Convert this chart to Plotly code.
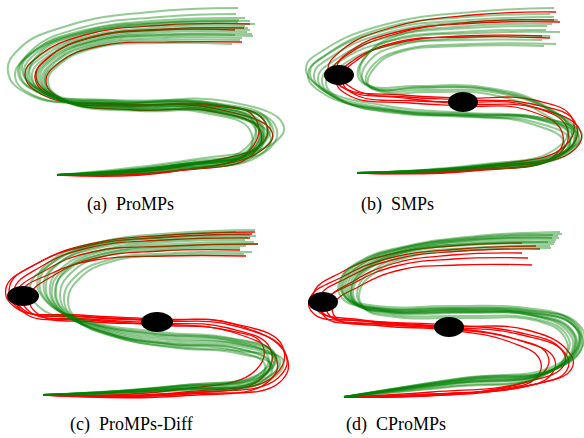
import plotly.graph_objects as go

# ---------------- data (panel-local pixel coordinates, y downward) ----------------
A_GREEN = [
    [(238,22),(160,23),(85,32),(35,50),(18,72),(40,93),(115,100),(215,103),(268,120),(262,145),(180,163),(57,175)],
    [(245,26),(165,27),(90,36),(42,54),(26,74),(48,95),(120,104),(210,107),(262,124),(255,150),(175,166),(57,175)],
    [(250,30),(170,30),(95,38),(48,56),(32,76),(52,97),(125,106),(205,109),(258,128),(250,152),(170,168),(57,175)],
    [(235,35),(160,35),(90,42),(50,60),(38,78),(58,98),(130,108),(200,112),(250,130),(245,155),(165,169),(57,175)],
    [(255,24),(170,25),(80,34),(30,55),(15,76),(35,96),(110,103),(220,105),(275,125),(270,148),(185,164),(57,175)],
    [(240,40),(165,40),(100,45),(60,62),(45,80),(65,100),(135,110),(210,110),(255,128),(248,150),(172,167),(57,175)],
    [(238,8),(150,12),(70,25),(20,48),(8,72),(30,95),(110,103),(225,101),(283,124),(275,142),(190,160),(57,175)],
    [(245,18),(165,20),(85,30),(38,48),(22,70),(45,92),(118,101),(212,104),(265,122),(258,147),(178,165),(57,175)],
    [(252,34),(175,34),(100,40),(55,58),(40,78),(60,99),(128,107),(205,108),(258,126),(252,150),(172,167),(57,175)],
    [(232,44),(160,43),(95,48),(60,64),(48,82),(68,102),(140,111),(215,112),(262,132),(255,155),(170,170),(57,175)],
    [(248,28),(168,29),(92,37),(45,55),(28,75),(50,96),(122,105),(208,106),(260,125),(252,151),(174,166),(57,175)],
    [(242,38),(165,38),(98,44),(58,60),(44,80),(62,100),(132,109),(210,112),(270,135),(260,155),(175,170),(57,175)],
    [(236,14),(160,17),(80,28),(32,50),(20,74),(42,94),(112,102),(218,104),(272,126),(264,148),(182,164),(57,175)],
    [(250,21),(168,23),(88,33),(40,53),(30,76),(54,97),(126,104),(206,106),(254,122),(246,148),(168,166),(57,175)],
    [(247,32),(168,32),(94,40),(50,58),(36,78),(56,98),(126,106),(206,108),(262,127),(254,151),(172,167),(57,175)],
    [(239,20),(163,22),(86,31),(39,51),(24,73),(46,94),(117,102),(214,105),(266,123),(259,148),(179,165),(57,175)],
    [(253,36),(172,36),(99,42),(56,60),(42,80),(62,100),(130,108),(207,110),(260,131),(252,154),(171,169),(57,175)],
]
A_RED = [
    [(242,42),(170,42),(100,46),(60,62),(46,82),(66,101),(135,110),(210,111),(260,130),(252,155),(175,171),(57,175)],
    [(250,24),(165,25),(85,35),(40,55),(25,75),(45,96),(120,104),(215,106),(262,118),(265,140),(190,165),(57,175)],
    [(235,30),(160,30),(90,38),(48,58),(35,78),(55,98),(128,106),(205,104),(255,118),(250,150),(170,172),(57,175)],
    [(244,28),(166,29),(92,37),(50,56),(36,76),(56,97),(124,105),(212,108),(272,132),(262,150),(180,170),(57,175)],
]
A_OBST = []

B_GREEN = [
    [(262,8),(180,12),(95,24),(35,48),(14,68),(30,88),(95,106),(175,113),(245,117),(284,132),(272,152),(190,166),(65,173)],
    [(258,14),(175,17),(92,28),(38,52),(18,72),(34,92),(100,109),(178,115),(248,119),(287,136),(274,155),(186,167),(65,173)],
    [(266,20),(182,22),(98,32),(42,55),(22,75),(38,95),(105,111),(180,116),(252,121),(282,138),(268,156),(182,168),(65,173)],
    [(255,26),(175,28),(96,37),(46,58),(26,78),(42,97),(108,112),(176,117),(242,122),(278,140),(264,158),(178,169),(65,173)],
    [(268,32),(185,33),(102,40),(50,60),(30,80),(46,99),(110,113),(182,115),(250,118),(290,134),(276,150),(192,165),(65,173)],
    [(250,40),(170,40),(100,45),(55,62),(34,82),(50,100),(112,114),(172,116),(240,124),(272,142),(260,159),(175,170),(65,173)],
    [(262,17),(178,20),(94,30),(36,54),(16,74),(32,94),(98,110),(176,114),(246,119),(283,135),(270,153),(188,166),(65,173)],
    [(258,36),(172,38),(105,46),(78,60),(70,78),(80,88),(130,88),(195,89),(255,108),(280,132),(266,152),(185,166),(65,173)],
    [(264,44),(178,44),(110,50),(82,64),(74,82),(86,90),(135,90),(200,92),(260,112),(284,136),(270,155),(188,167),(65,173)],
    [(254,30),(170,32),(100,40),(74,56),(66,76),(78,86),(125,86),(190,87),(250,104),(276,128),(262,150),(182,165),(65,173)],
    [(260,24),(176,26),(104,36),(76,54),(68,74),(82,88),(132,87),(198,90),(258,110),(286,134),(272,154),(190,166),(65,173)],
    [(252,46),(168,46),(108,52),(84,66),(76,84),(90,92),(138,92),(196,94),(252,114),(278,138),(264,157),(180,168),(65,173)],
]
B_RED = [
    [(262,20),(180,22),(100,35),(55,55),(40,72),(55,90),(115,97),(171,100),(240,104),(283,122),(278,148),(195,167),(65,173)],
    [(268,22),(185,23),(105,32),(60,50),(45,68),(60,88),(120,99),(171,104),(245,108),(288,130),(282,150),(198,168),(65,173)],
    [(258,38),(175,37),(105,42),(68,58),(50,78),(62,94),(125,101),(171,102),(238,106),(275,128),(266,155),(185,170),(65,173)],
    [(250,36),(170,36),(102,44),(62,60),(44,80),(58,96),(118,103),(171,106),(235,110),(270,132),(262,156),(180,171),(65,173)],
    [(264,12),(180,15),(98,28),(50,50),(36,70),(52,88),(110,95),(171,98),(242,100),(280,118),(274,145),(192,166),(65,173)],
]
B_OBST = [(47, 75, 15, 10), (171, 102, 15, 10)]

C_GREEN = [
    [(255,10),(175,13),(100,22),(55,38),(38,58),(45,80),(85,100),(160,112),(230,118),(272,132),(262,152),(175,166),(43,175)],
    [(250,15),(170,17),(100,26),(60,42),(44,62),(52,84),(92,104),(165,116),(235,121),(276,136),(264,155),(172,167),(43,175)],
    [(245,20),(168,22),(102,30),(64,46),(50,66),(58,88),(98,108),(168,120),(238,124),(280,140),(268,157),(178,168),(43,175)],
    [(258,24),(178,26),(106,33),(68,50),(55,70),(64,92),(104,112),(170,124),(235,128),(270,142),(258,160),(170,169),(43,175)],
    [(240,28),(165,30),(104,36),(72,52),(60,74),(70,95),(110,114),(172,125),(232,130),(265,145),(254,162),(168,170),(43,175)],
    [(252,32),(175,33),(108,40),(76,56),(64,78),(74,98),(115,117),(175,127),(240,131),(283,140),(270,160),(180,169),(43,175)],
    [(236,12),(160,16),(90,26),(48,46),(30,66),(38,86),(82,102),(155,114),(228,120),(268,136),(258,155),(170,167),(43,175)],
    [(248,18),(172,20),(98,28),(58,44),(46,64),(54,86),(95,106),(166,118),(234,123),(274,138),(262,156),(176,167),(43,175)],
    [(254,22),(176,24),(104,31),(66,48),(52,68),(60,90),(100,110),(168,122),(238,126),(278,141),(266,159),(174,169),(43,175)],
    [(244,34),(170,35),(110,42),(80,58),(68,80),(78,100),(120,118),(178,128),(236,133),(272,146),(260,163),(172,171),(43,175)],
    [(256,16),(178,18),(100,24),(56,40),(40,60),(48,82),(88,102),(162,114),(232,119),(275,134),(264,153),(174,166),(43,175)],
    [(246,26),(170,28),(103,34),(66,50),(56,72),(66,93),(106,113),(171,124),(236,128),(270,144),(258,161),(170,170),(43,175)],
]
C_RED = [
    [(255,12),(170,15),(90,24),(40,42),(10,65),(18,88),(80,95),(157,99),(230,103),(282,125),(275,155),(185,172),(43,175)],
    [(250,18),(165,20),(88,28),(42,46),(14,70),(24,90),(85,97),(157,101),(235,106),(285,132),(278,158),(182,173),(43,175)],
    [(246,36),(165,36),(95,40),(50,54),(22,72),(30,92),(90,99),(157,103),(228,108),(270,128),(262,158),(178,174),(43,175)],
    [(258,24),(172,26),(92,32),(46,50),(16,74),(26,94),(88,100),(157,105),(232,112),(276,138),(268,162),(180,176),(43,175)],
    [(240,30),(160,31),(96,38),(56,54),(30,76),(38,94),(95,102),(157,104),(226,110),(262,124),(256,150),(175,170),(43,175)],
    [(252,14),(168,17),(86,26),(36,44),(6,68),(16,88),(76,96),(157,100),(234,104),(286,135),(280,162),(190,174),(43,175)],
]
C_OBST = [(23, 76, 16, 10), (157, 102, 16, 10)]

D_GREEN = [
    [(268,12),(185,16),(115,26),(70,40),(50,58),(52,76),(85,86),(160,86),(235,88),(278,100),(288,120),(262,146),(170,158),(52,177)],
    [(266,16),(182,19),(112,28),(72,43),(54,62),(58,80),(90,89),(165,89),(238,92),(280,104),(286,125),(258,150),(168,160),(52,177)],
    [(264,20),(180,22),(112,31),(75,46),(58,64),(62,82),(95,91),(168,91),(240,94),(278,108),(284,128),(256,152),(165,162),(52,177)],
    [(262,24),(178,25),(114,33),(78,48),(62,66),(66,84),(98,93),(170,93),(242,96),(276,112),(280,130),(252,154),(162,164),(52,177)],
    [(260,18),(180,20),(110,30),(70,44),(52,62),(56,80),(88,90),(162,90),(236,92),(282,106),(290,126),(262,150),(172,160),(52,177)],
    [(258,26),(176,28),(116,35),(82,50),(66,68),(70,86),(102,95),(172,96),(244,99),(274,114),(276,132),(250,156),(160,166),(52,177)],
    [(270,14),(186,17),(114,27),(68,42),(48,60),(50,78),(84,88),(158,88),(234,90),(284,102),(292,122),(266,148),(174,158),(52,177)],
    [(256,22),(176,24),(112,32),(76,47),(60,65),(64,83),(96,92),(166,92),(238,95),(279,110),(282,130),(254,153),(164,163),(52,177)],
    [(267,18),(184,20),(113,30),(73,45),(56,63),(60,81),(92,90),(164,90),(237,93),(281,105),(287,126),(259,151),(167,161),(52,177)],
    [(263,22),(179,24),(113,32),(77,47),(60,66),(64,84),(97,92),(168,92),(241,95),(277,110),(282,129),(254,153),(163,163),(52,177)],
    [(261,15),(182,18),(111,28),(70,42),(51,60),(54,78),(87,88),(161,88),(236,90),(283,103),(289,123),(264,148),(171,159),(52,177)],
    [(259,28),(177,30),(117,37),(84,52),(68,70),(72,88),(104,97),(174,98),(246,101),(272,116),(274,134),(248,157),(158,167),(52,177)],
]
D_RED = [
    [(230,23),(160,26),(95,35),(50,52),(22,72),(25,90),(70,100),(157,105),(225,112),(268,128),(272,145),(230,163),(140,172),(52,177)],
    [(248,29),(170,31),(100,40),(55,58),(28,76),(30,92),(80,102),(157,107),(230,115),(272,132),(275,150),(235,166),(140,174),(52,177)],
    [(230,33),(160,35),(100,44),(60,62),(36,80),(38,96),(88,104),(157,108),(220,118),(255,134),(252,152),(210,168),(130,175),(52,177)],
    [(240,45),(165,45),(108,50),(68,66),(42,84),(44,98),(92,106),(157,110),(218,122),(248,140),(244,158),(200,170),(125,176),(52,177)],
    [(244,26),(168,29),(98,38),(52,56),(18,78),(22,94),(75,101),(157,106),(235,110),(275,130),(280,148),(240,165),(145,174),(52,177)],
    [(236,38),(162,39),(104,46),(64,62),(30,84),(34,98),(84,104),(157,109),(226,120),(262,138),(258,156),(215,169),(135,176),(52,177)],
]
D_OBST = [(31, 82, 15, 10), (157, 107, 15, 10)]

CAPTIONS = ["(a)\u00a0\u00a0ProMPs", "(b)\u00a0\u00a0SMPs", "(c)\u00a0\u00a0ProMPs-Diff", "(d)\u00a0\u00a0CProMPs"]

# ---------------- figure ----------------
W, H = 584, 438
PANELS = [
    (A_GREEN, A_RED, A_OBST, (0, 292), (0, 190), 130, 204),
    (B_GREEN, B_RED, B_OBST, (292, 584), (0, 190), 398, 204),
    (C_GREEN, C_RED, C_OBST, (0, 292), (220, 410), 131, 424),
    (D_GREEN, D_RED, D_OBST, (292, 584), (220, 410), 396, 424),
]

fig = go.Figure()
shapes = []
annotations = []
layout_axes = {}
for i, (greens, reds, obst, (x0, x1), (y0, y1), cx, cy) in enumerate(PANELS):
    n = "" if i == 0 else str(i + 1)
    xa, ya = "x" + n, "y" + n
    layout_axes["xaxis" + n] = dict(domain=[x0 / W, x1 / W], range=[0, x1 - x0], visible=False,
                                    anchor=ya, fixedrange=True)
    layout_axes["yaxis" + n] = dict(domain=[1 - y1 / H, 1 - y0 / H], range=[y1 - y0, 0], visible=False,
                                    anchor=xa, fixedrange=True)
    for curve in reds:
        fig.add_trace(go.Scatter(x=[p[0] for p in curve], y=[p[1] for p in curve], mode="lines",
                                 line=dict(color="rgb(255,0,0)", width=1.3, shape="spline", smoothing=1.3),
                                 xaxis=xa, yaxis=ya, hoverinfo="skip"))
    for curve in greens:
        fig.add_trace(go.Scatter(x=[p[0] for p in curve], y=[p[1] for p in curve], mode="lines",
                                 line=dict(color="rgba(0,128,0,0.42)", width=2.0, shape="spline", smoothing=1.3),
                                 xaxis=xa, yaxis=ya, hoverinfo="skip"))
    for (ox, oy, rx, ry) in obst:
        shapes.append(dict(type="circle", xref=xa, yref=ya, x0=ox - rx, x1=ox + rx, y0=oy - ry, y1=oy + ry,
                           fillcolor="black", line=dict(color="black", width=0), layer="above"))
    annotations.append(dict(text=CAPTIONS[i], x=cx / W, y=1 - cy / H, xref="paper", yref="paper",
                            showarrow=False, xanchor="center", yanchor="middle",
                            font=dict(family="Liberation Serif", size=18, color="black")))

fig.update_layout(width=W, height=H, margin=dict(l=0, r=0, t=0, b=0), showlegend=False,
                  paper_bgcolor="white", plot_bgcolor="white", shapes=shapes, annotations=annotations,
                  **layout_axes)
fig.write_html("out.html", config={"displayModeBar": False},
               post_script="document.body.style.margin='0';document.body.style.overflow='hidden';")
